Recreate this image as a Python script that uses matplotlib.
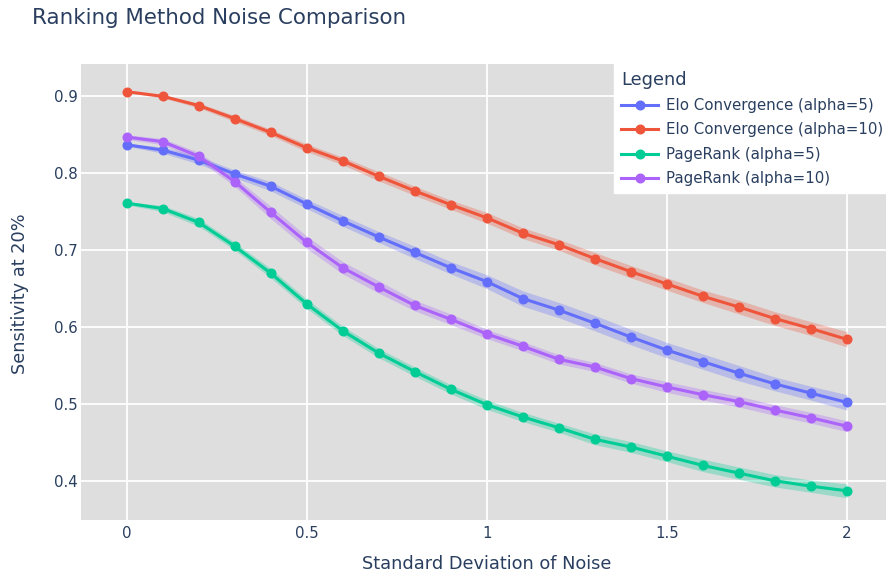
import matplotlib
matplotlib.use("Agg")
import matplotlib.pyplot as plt
import numpy as np

# noise levels (std dev) on the x axis
noise = [0.0, 0.1, 0.2, 0.3, 0.4, 0.5, 0.6, 0.7, 0.8, 0.9, 1.0,
         1.1, 1.2, 1.3, 1.4, 1.5, 1.6, 1.7, 1.8, 1.9, 2.0]

elo_a5 = [0.837, 0.830, 0.817, 0.799, 0.783, 0.760, 0.738, 0.717, 0.697, 0.677, 0.659,
          0.637, 0.622, 0.605, 0.587, 0.570, 0.555, 0.540, 0.526, 0.514, 0.502]
elo_a10 = [0.906, 0.900, 0.888, 0.871, 0.853, 0.833, 0.816, 0.796, 0.777, 0.759, 0.742,
           0.722, 0.707, 0.689, 0.672, 0.656, 0.640, 0.626, 0.611, 0.598, 0.584]
pr_a5 = [0.761, 0.754, 0.736, 0.705, 0.670, 0.630, 0.595, 0.566, 0.542, 0.519, 0.499,
         0.483, 0.469, 0.454, 0.444, 0.432, 0.420, 0.410, 0.400, 0.393, 0.387]
pr_a10 = [0.847, 0.841, 0.822, 0.789, 0.749, 0.710, 0.677, 0.652, 0.628, 0.610, 0.591,
          0.575, 0.558, 0.548, 0.533, 0.522, 0.512, 0.503, 0.492, 0.482, 0.471]

# half-width of the shaded band around each line
elo_a5_err = [0.002, 0.004, 0.005, 0.005, 0.006, 0.006, 0.007, 0.007, 0.008, 0.008, 0.009,
              0.010, 0.010, 0.010, 0.010, 0.010, 0.010, 0.010, 0.009, 0.009, 0.010]
elo_a10_err = [0.001, 0.002, 0.003, 0.004, 0.004, 0.005, 0.005, 0.006, 0.006, 0.006, 0.007,
               0.007, 0.007, 0.008, 0.008, 0.008, 0.008, 0.009, 0.009, 0.009, 0.010]
pr_a5_err = [0.002, 0.004, 0.005, 0.005, 0.006, 0.006, 0.006, 0.006, 0.006, 0.006, 0.006,
             0.006, 0.006, 0.007, 0.007, 0.007, 0.008, 0.008, 0.008, 0.008, 0.009]
pr_a10_err = [0.003, 0.004, 0.005, 0.006, 0.008, 0.008, 0.008, 0.008, 0.007, 0.007, 0.006,
              0.006, 0.006, 0.006, 0.006, 0.007, 0.007, 0.007, 0.007, 0.007, 0.007]

series = [
    ("Elo Convergence (alpha=5)", elo_a5, elo_a5_err, "#636efa"),
    ("Elo Convergence (alpha=10)", elo_a10, elo_a10_err, "#ef553b"),
    ("PageRank (alpha=5)", pr_a5, pr_a5_err, "#00cc96"),
    ("PageRank (alpha=10)", pr_a10, pr_a10_err, "#ab63fa"),
]

text_color = "#2a3f5f"
plt.rcParams['font.family'] = ['DejaVu Sans']

fig = plt.figure(figsize=(8.88, 5.79), dpi=100)
ax = fig.add_axes([81 / 888, 1 - 520 / 579, 805 / 888, 456 / 579])
ax.set_facecolor("#dedede")

x = np.array(noise)
for name, vals, err, color in series:
    v = np.array(vals)
    e = np.array(err)
    ax.fill_between(x, v - e, v + e, color=color, alpha=0.3, linewidth=0, zorder=2)
    ax.plot(x, v, color=color, linewidth=2.2, marker="o", markersize=6.2,
            label=name, zorder=3)

ax.set_xlim(-0.127, 2.109)
ax.set_ylim(0.349, 0.942)
ax.set_xticks([0, 0.5, 1, 1.5, 2])
ax.set_xticklabels(["0", "0.5", "1", "1.5", "2"])
ax.set_yticks([0.4, 0.5, 0.6, 0.7, 0.8, 0.9])
ax.grid(True, color="white", linewidth=1.3, zorder=0)
ax.set_axisbelow(True)
for sp in ax.spines.values():
    sp.set_visible(False)
ax.tick_params(length=0, labelsize=10.8, colors=text_color)
ax.tick_params(axis="x", pad=4)
ax.tick_params(axis="y", pad=2)

ax.set_xlabel("Standard Deviation of Noise", fontsize=12.8, color=text_color)
ax.xaxis.set_label_coords(487 / 888, 1 - 564 / 579, transform=fig.transFigure)
ax.xaxis.label.set_va("center")
ax.set_ylabel("Sensitivity at 20%", fontsize=12.8, color=text_color)
ax.yaxis.set_label_coords(20 / 888, 1 - 294 / 579, transform=fig.transFigure)
ax.yaxis.label.set_va("center")

fig.text(32 / 888, 1 - 18 / 579, "Ranking Method Noise Comparison", fontsize=15.4,
         color=text_color, va="center", ha="left")

leg = ax.legend(loc="upper left", bbox_to_anchor=(614 / 888, 1 - 64 / 579),
                bbox_transform=fig.transFigure, title="Legend", alignment="left",
                frameon=True, fancybox=False, framealpha=1, edgecolor="white",
                fontsize=10.85, title_fontsize=12.8, handlelength=2.5, handletextpad=0.5,
                labelspacing=0.62, borderaxespad=0, borderpad=0.45)
for t in leg.get_texts():
    t.set_color(text_color)
leg.get_title().set_color(text_color)

fig.savefig("out.png", dpi=100)
